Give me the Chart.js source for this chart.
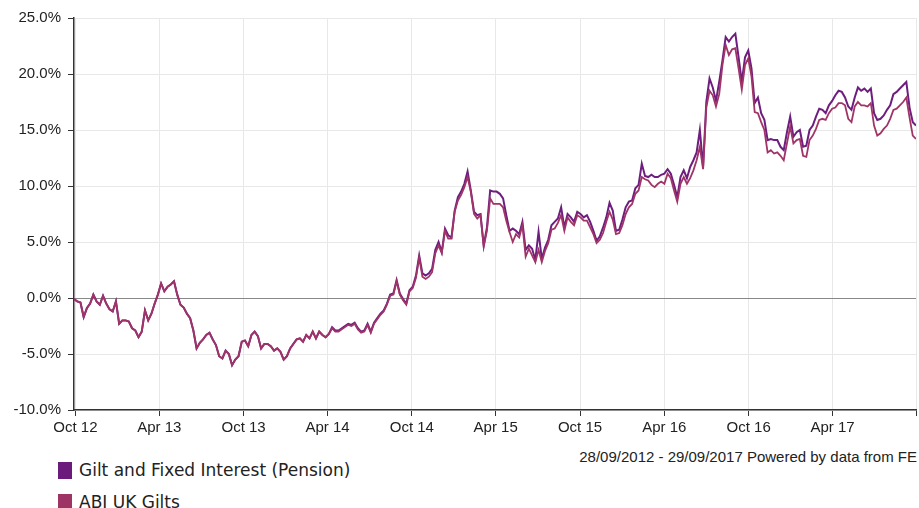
<!DOCTYPE html>
<html>
<head>
<meta charset="utf-8">
<script src="https://cdn.jsdelivr.net/npm/chart.js@4"></script>
<style>
  body { margin: 0; background: #fff; }
  #wrap { position: relative; width: 919px; height: 440px; }
  #caption { position: absolute; top: 448px; right: 2px; font: 15px "Liberation Sans", Arial, sans-serif; color: #222; }
  .leg { position: absolute; left: 58px; font: 17px "DejaVu Sans", sans-serif; color: #222; display: flex; align-items: center; }
  .leg span.box { display: inline-block; width: 14px; height: 17px; margin-right: 7px; }
</style>
</head>
<body>
<div id="wrap"><canvas id="chart"></canvas></div>
<div id="caption">28/09/2012 - 29/09/2017 Powered by data from FE</div>
<div class="leg" style="top:460px"><span class="box" style="background:#6b1b7b"></span>Gilt and Fixed Interest (Pension)</div>
<div class="leg" style="top:492px"><span class="box" style="background:#9e3366"></span>ABI UK Gilts</div>
<script>
const startDate = Date.UTC(2012, 8, 28);
const stepDays = 7;

const tickDates = ["2012-10-01", "2013-04-01", "2013-10-01", "2014-04-01", "2014-10-01",
  "2015-04-01", "2015-10-01", "2016-04-01", "2016-10-01", "2017-04-01", "2017-09-29"];
const tickLabels = ["Oct 12", "Apr 13", "Oct 13", "Apr 14", "Oct 14",
  "Apr 15", "Oct 15", "Apr 16", "Oct 16", "Apr 17", ""];

// weekly % growth
const giltFixed = [
  -0.1,-0.3,-0.4,-1.7,-0.9,-0.5,0.3,-0.3,-0.6,0.2,
  -0.5,-1.0,-1.2,-0.3,-2.3,-2.0,-2.0,-2.1,-2.7,-2.9,
  -3.5,-3.0,-1.1,-2.0,-1.4,-0.5,0.3,1.3,0.6,1.0,
  1.2,1.5,0.3,-0.6,-0.85,-1.4,-1.8,-2.9,-4.5,-4.0,
  -3.7,-3.3,-3.1,-3.7,-4.2,-5.2,-5.4,-4.7,-5.0,-6.0,
  -5.5,-5.2,-3.9,-3.8,-4.3,-3.3,-3.0,-3.4,-4.5,-4.1,
  -4.1,-4.3,-4.7,-4.5,-4.8,-5.5,-5.2,-4.5,-4.1,-3.7,
  -3.6,-3.9,-3.3,-3.6,-3.0,-3.6,-3.0,-3.3,-3.5,-3.2,
  -2.6,-2.9,-2.9,-2.7,-2.5,-2.3,-2.4,-2.2,-2.7,-3.0,
  -2.9,-2.3,-3.0,-2.2,-1.8,-1.4,-1.1,-0.5,0.3,0.4,
  1.6,0.4,-0.1,-0.5,0.7,1.0,2.0,3.8,2.2,2.0,
  2.2,2.6,4.3,5.0,4.1,6.2,5.6,5.4,7.8,9.0,
  9.5,10.2,11.3,9.6,7.7,7.4,7.5,4.7,6.3,9.6,
  9.5,9.5,9.3,8.9,7.4,6.0,6.2,6.0,5.7,6.8,
  4.3,4.7,4.4,3.4,5.9,3.5,4.5,5.2,6.5,6.8,
  7.1,8.1,6.3,7.5,7.2,6.8,7.7,7.5,7.2,7.4,
  6.8,6.0,5.1,5.5,6.3,7.2,8.5,7.8,6.0,6.1,
  7.0,8.1,8.6,8.7,9.8,10.1,12.0,10.9,10.8,11.0,
  10.8,10.8,11.0,11.1,11.5,11.1,10.1,9.0,10.8,11.4,
  10.7,11.7,12.3,13.0,15.0,11.7,17.5,19.6,18.8,17.6,
  19.3,21.2,23.3,22.9,23.3,23.6,21.5,19.3,21.5,22.1,
  20.5,17.4,17.9,16.5,15.9,14.1,14.2,14.1,14.1,13.5,
  13.2,14.8,16.2,14.4,14.8,15.0,13.5,13.6,15.0,15.4,
  16.2,16.9,16.8,16.5,17.2,17.6,18.1,18.5,18.4,17.9,
  17.1,16.8,17.9,18.8,18.5,18.7,18.4,18.7,16.5,15.9,
  16.0,16.3,16.8,17.2,18.2,18.4,18.7,19.0,19.3,17.0,
  15.7,15.4
];

const abiGilts = [
  -0.1,-0.3,-0.4,-1.7,-0.9,-0.5,0.3,-0.3,-0.6,0.2,
  -0.5,-1.0,-1.2,-0.3,-2.3,-2.0,-2.0,-2.1,-2.7,-2.9,
  -3.5,-3.0,-1.1,-2.0,-1.4,-0.5,0.3,1.3,0.6,1.0,
  1.2,1.5,0.3,-0.6,-0.85,-1.4,-1.8,-2.9,-4.5,-4.0,
  -3.7,-3.3,-3.1,-3.7,-4.2,-5.2,-5.4,-4.7,-5.0,-6.0,
  -5.5,-5.2,-3.9,-3.8,-4.3,-3.3,-3.0,-3.4,-4.5,-4.1,
  -4.1,-4.3,-4.7,-4.5,-4.8,-5.5,-5.2,-4.5,-4.1,-3.7,
  -3.6,-3.9,-3.3,-3.6,-3.0,-3.6,-3.0,-3.3,-3.5,-3.2,
  -2.7,-3.0,-3.0,-2.8,-2.6,-2.4,-2.5,-2.3,-2.8,-3.1,
  -3.0,-2.4,-3.1,-2.3,-1.9,-1.5,-1.2,-0.6,0.2,0.3,
  1.5,0.3,-0.2,-0.6,0.6,0.9,1.8,3.6,1.9,1.7,
  1.9,2.3,4.0,4.7,4.0,6.0,5.3,5.3,7.7,8.7,
  9.2,9.9,10.8,9.5,7.5,7.1,7.4,4.6,6.0,8.9,
  8.4,8.4,8.4,8.1,6.9,5.9,5.0,5.7,5.4,6.5,
  3.7,4.4,3.8,3.2,4.3,3.2,4.2,4.9,6.1,6.2,
  6.7,7.4,6.0,7.2,6.8,6.5,7.4,7.2,6.9,6.9,
  6.3,5.7,4.9,5.2,5.8,6.8,7.7,7.0,5.7,5.8,
  6.5,7.5,8.1,8.4,9.3,9.6,10.8,10.6,10.5,10.1,
  9.9,10.2,10.4,10.2,11.1,10.7,9.6,8.6,10.2,10.8,
  10.2,10.7,11.4,12.3,13.5,11.5,17.0,18.5,18.1,17.1,
  18.2,20.8,22.6,21.7,22.2,22.3,20.5,18.6,20.8,21.4,
  19.8,16.6,16.5,15.7,15.0,13.0,13.2,12.9,13.0,12.7,
  12.3,13.8,15.3,13.8,14.1,14.2,12.7,12.6,14.1,14.5,
  15.1,15.9,16.0,15.9,16.5,16.9,17.0,17.4,17.4,17.2,
  16.0,15.7,17.1,17.5,17.2,17.2,17.1,17.4,15.4,14.5,
  14.7,15.1,15.4,16.0,16.8,16.9,17.2,17.5,17.9,16.1,
  14.5,14.2
];

const dayOf = (s) => Math.round((Date.parse(s + "T00:00:00Z") - startDate) / 86400000);
const tickDays = tickDates.map(dayOf);
const toPoints = (arr) => arr.map((v, i) => ({ x: i * stepDays, y: v }));

const tickFont = { family: "'Liberation Sans', Arial, sans-serif", size: 15 };

new Chart(document.getElementById("chart").getContext("2d"), {
  type: "line",
  data: {
    datasets: [
      { label: "Gilt and Fixed Interest (Pension)", data: toPoints(giltFixed), borderColor: "#6e1e7e", borderWidth: 2, pointRadius: 0, tension: 0, order: 1 },
      { label: "ABI UK Gilts", data: toPoints(abiGilts), borderColor: "#a03466", borderWidth: 1.8, pointRadius: 0, tension: 0, order: 0 },
    ],
  },
  options: {
    responsive: true,
    maintainAspectRatio: false,
    animation: false,
    layout: { padding: { top: 18, right: 3, left: 0, bottom: 0 } },
    plugins: { legend: { display: false }, tooltip: { enabled: false } },
    scales: {
      x: {
        type: "linear",
        min: 0,
        max: tickDays[tickDays.length - 1],
        afterBuildTicks: (axis) => { axis.ticks = tickDays.map((v) => ({ value: v })); },
        afterFit: (s) => { s.height = 30; },
        ticks: { autoSkip: false, maxRotation: 0, minRotation: 0, padding: 3, color: "#222", font: tickFont,
          callback: (v, i) => tickLabels[i] ?? "" },
        grid: { color: "#e8e8e8", tickColor: "#333", tickLength: 6 },
        border: { color: "#333", width: 1.5 },
      },
      y: {
        min: -10,
        max: 25,
        afterFit: (s) => { s.width = 74; },
        ticks: { stepSize: 5, padding: 7, color: "#222", font: tickFont,
          callback: (v) => v.toFixed(1) + "%" },
        grid: { color: (c) => (c.tick && c.tick.value === 0 ? "#888" : "#e8e8e8"), tickColor: "#333", tickLength: 6 },
        border: { color: "#333", width: 1.5 },
      },
    },
  },
});
</script>
</body>
</html>
